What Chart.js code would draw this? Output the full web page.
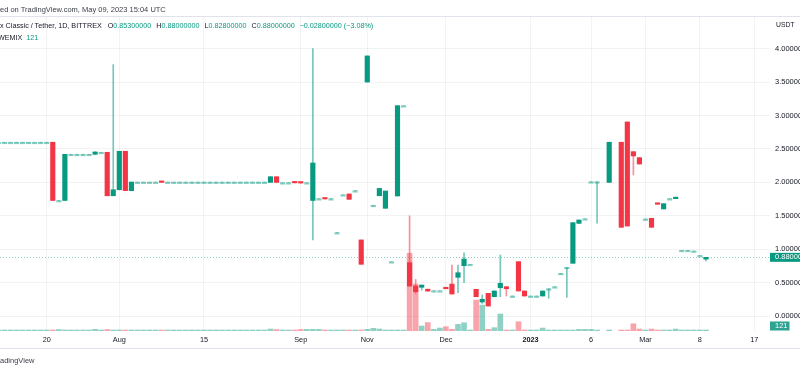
<!DOCTYPE html>
<html>
<head>
<meta charset="utf-8">
<script src="https://cdn.jsdelivr.net/npm/chart.js@4.4.0/dist/chart.umd.min.js"></script>
<style>
  html, body { margin: 0; padding: 0; background: #fff; }
  #wrap { position: relative; width: 800px; height: 371px; overflow: hidden; font-family: 'Liberation Sans', Arial, sans-serif; color: #131722; }
  #grafico { position: absolute; left: 0; top: 0; }
  .txt { position: absolute; white-space: nowrap; font-size: 7.2px; line-height: 10px; }
  .verde { color: #089981; }
  .linha { position: absolute; left: 0; width: 800px; height: 1px; background: #e0e3eb; }
</style>
</head>
<body>
<div id="wrap">
  <canvas id="grafico" width="800" height="371"></canvas>
  <div class="txt" style="left:0;top:4.5px;font-size:7.5px;color:#3b3e48">ed on TradingView.com, May 09, 2023 15:04 UTC</div>
  <div class="linha" style="top:16px"></div>
  <div class="txt" id="legenda1" style="left:0;top:21px"></div>
  <div class="txt" id="legenda2" style="left:-2px;top:32.5px"></div>
  <div class="txt" style="left:776px;top:20px;font-size:6.8px">USDT</div>
  <div class="linha" style="top:348px"></div>
  <div class="txt" style="left:0;top:356px;font-size:7.5px;color:#3b3e48">adingView</div>
</div>
<script>
// time axis labels (bar index -> label)
const tickIndex = [8, 20, 34, 50, 61, 74, 88, 98, 107, 116, 125];
const tickLabels = ['20', 'Aug', '15', 'Sep', 'Nov', 'Dec', '2023', '6', 'Mar', '8', '17'];
const priceTicks = [0, 0.5, 1, 1.5, 2, 2.5, 3, 3.5, 4];

// daily candles, one entry per bar (null = no bar)
const opens = [
    2.60, 2.60, 2.60, 2.60, 2.60, 2.60, 2.60, 2.60, 2.60, 2.60,
    1.73, 1.73, 2.42, 2.42, 2.42, 2.42, 2.42, 2.45, 2.45, 1.80,
    1.89, 2.465, 1.876, 2.005, 2.005, 2.005, 2.005, 2.012, 2.005, 2.005,
    2.005, 2.005, 2.005, 2.005, 2.005, 2.005, 2.005, 2.005, 2.005, 2.005,
    2.005, 2.005, 2.005, 2.005, 2.005, 2.00, 2.085, 1.996, 1.996, 2.00,
    2.00, 1.996, 1.73, 1.757, 1.762, 1.757, 1.25, 1.816, 1.827, 1.876,
    1.14, 3.50, 1.658, 1.80, 1.613, 0.815, 1.797, 3.147, 0.80, 0.451,
    0.432, 0.404, 0.381, 0.381, 0.425, 0.48, 0.581, 0.755, 0.776, 0.402,
    0.212, 0.342, 0.291, 0.426, 0.441, 0.302, 0.815, 0.377, 0.302, 0.302,
    0.302, 0.411, 0.441, 0.641, 0.731, 0.791, 1.388, 1.457, 2.01, 2.01,
    null, 2.00, null, 2.60, 2.903, 2.459, 2.37, 1.453, 1.463, 1.68,
    1.603, 1.757, 1.757, 0.985, 0.985, 0.975, 0.908, 0.853
];
const highs = [
    2.60, 2.60, 2.60, 2.60, 2.60, 2.60, 2.60, 2.60, 2.60, 2.60,
    1.73, 2.42, 2.42, 2.42, 2.42, 2.42, 2.455, 2.45, 2.45, 3.76,
    2.465, 2.465, 2.005, 2.005, 2.005, 2.005, 2.005, 2.012, 2.005, 2.005,
    2.005, 2.005, 2.005, 2.005, 2.005, 2.005, 2.005, 2.005, 2.005, 2.005,
    2.005, 2.005, 2.005, 2.005, 2.005, 2.085, 2.085, 1.996, 1.996, 2.00,
    2.00, 1.996, 4.00, 1.757, 1.762, 1.757, 1.25, 1.816, 1.827, 1.876,
    1.14, 3.89, 1.658, 1.91, 1.871, 0.815, 3.147, 3.147, 1.50, 0.55,
    0.466, 0.404, 0.381, 0.381, 0.425, 0.765, 0.765, 0.949, 0.776, 0.402,
    0.317, 0.342, 0.377, 0.915, 0.441, 0.302, 0.815, 0.377, 0.302, 0.302,
    0.377, 0.411, 0.441, 0.641, 0.731, 1.398, 1.438, 1.457, 2.01, 2.01,
    null, 2.60, null, 2.60, 2.903, 2.459, 2.37, 1.453, 1.463, 1.68,
    1.682, 1.757, 1.765, 0.985, 0.985, 0.975, 0.908, 0.88
];
const lows = [
    2.60, 2.60, 2.60, 2.60, 2.60, 2.60, 2.60, 2.60, 2.60, 1.73,
    1.73, 1.73, 2.42, 2.42, 2.42, 2.42, 2.42, 2.45, 1.80, 1.80,
    1.89, 1.876, 1.876, 2.005, 2.005, 2.005, 2.005, 2.00, 2.005, 2.005,
    2.005, 2.005, 2.005, 2.005, 2.005, 2.005, 2.005, 2.005, 2.005, 2.005,
    2.005, 2.005, 2.005, 2.005, 2.005, 2.00, 2.00, 1.996, 1.996, 1.993,
    1.99, 1.996, 1.14, 1.757, 1.752, 1.757, 1.25, 1.816, 1.747, 1.876,
    0.776, 3.50, 1.658, 1.80, 1.613, 0.815, 1.797, 3.147, 0.45, 0.342,
    0.39, 0.375, 0.381, 0.381, 0.41, 0.332, 0.351, 0.50, 0.776, 0.291,
    0.193, 0.152, 0.291, 0.291, 0.302, 0.302, 0.377, 0.302, 0.302, 0.302,
    0.302, 0.267, 0.441, 0.641, 0.282, 0.791, 1.388, 1.457, 2.01, 1.39,
    null, 2.00, null, 1.329, 1.348, 2.111, 2.275, 1.453, 1.329, 1.673,
    1.603, 1.757, 1.757, 0.985, 0.985, 0.975, 0.908, 0.828
];
const closes = [
    2.60, 2.60, 2.60, 2.60, 2.60, 2.60, 2.60, 2.60, 2.60, 1.73,
    1.73, 2.42, 2.42, 2.42, 2.42, 2.42, 2.455, 2.45, 1.80, 1.89,
    2.465, 1.876, 2.005, 2.005, 2.005, 2.005, 2.005, 2.00, 2.005, 2.005,
    2.005, 2.005, 2.005, 2.005, 2.005, 2.005, 2.005, 2.005, 2.005, 2.005,
    2.005, 2.005, 2.005, 2.005, 2.005, 2.085, 2.00, 1.996, 1.996, 1.993,
    1.99, 1.996, 2.29, 1.757, 1.752, 1.757, 1.25, 1.816, 1.747, 1.876,
    0.776, 3.89, 1.658, 1.91, 1.871, 0.815, 3.147, 3.147, 0.45, 0.366,
    0.466, 0.375, 0.381, 0.381, 0.41, 0.332, 0.65, 0.855, 0.776, 0.291,
    0.253, 0.152, 0.377, 0.492, 0.411, 0.302, 0.377, 0.302, 0.302, 0.302,
    0.377, 0.411, 0.441, 0.641, 0.731, 1.398, 1.438, 1.457, 2.01, 2.01,
    null, 2.60, null, 1.329, 1.348, 2.395, 2.275, 1.453, 1.329, 1.673,
    1.682, 1.757, 1.765, 0.985, 0.985, 0.975, 0.908, 0.88
];
const volumes = [
    60, 60, 60, 60, 60, 60, 60, 60, 60, 120,
    180, 120, 60, 60, 60, 60, 205, 60, 180, 120,
    120, 120, 120, 60, 60, 60, 60, 120, 60, 60,
    60, 60, 60, 60, 60, 60, 60, 60, 60, 60,
    60, 60, 60, 60, 60, 240, 180, 60, 60, 120,
    180, 205, 205, 205, 60, 60, 60, 60, 60, 60,
    120, 205, 330, 240, 120, 60, 60, 60, 9440, 5690,
    605, 1030, 205, 360, 520, 205, 810, 1000, 60, 3750,
    3150, 205, 400, 2060, 120, 60, 1125, 120, 60, 60,
    360, 85, 60, 60, 60, 60, 205, 205, 205, 60,
    null, 60, null, 85, 120, 880, 240, 60, 240, 85,
    120, 120, 240, 60, 60, 60, 85, 121
];

document.addEventListener('DOMContentLoaded', () => {
    const green = '#089981';
    const red = '#f23645';
    const last = closes.length - 1;

    // legend text built from the last bar
    const change = closes[last] - closes[last - 1];
    const pct = change / closes[last - 1] * 100;
    const fmt = v => v.toFixed(8).replace('-', '\u2212');
    document.getElementById('legenda1').innerHTML =
        'x Classic / Tether, 1D, BITTREX' +
        '<span style="margin-left:6px">O</span><span class="verde">' + fmt(opens[last]) + '</span>' +
        '<span style="margin-left:5px">H</span><span class="verde">' + fmt(highs[last]) + '</span>' +
        '<span style="margin-left:5px">L</span><span class="verde">' + fmt(lows[last]) + '</span>' +
        '<span style="margin-left:5px">C</span><span class="verde">' + fmt(closes[last]) + '</span>' +
        '<span class="verde" style="margin-left:5px">' + fmt(change) + ' (' + pct.toFixed(2).replace('-', '\u2212') + '%)</span>';
    document.getElementById('legenda2').innerHTML =
        'WEMIX<span class="verde" style="margin-left:4px">' + volumes[last] + '</span>';

    // split candles into wick / body / volume bars
    const wicks = [], wickColors = [];
    const bodies = [], bodyColors = [];
    const vols = [], volColors = [];
    for (let j = 0; j < opens.length; j++) {
        if (opens[j] === null) continue;
        const up = closes[j] >= opens[j];
        const flat = opens[j] === closes[j];
        wicks.push({ x: j, y: [lows[j], highs[j]] });
        wickColors.push(up ? 'rgba(8,153,129,0.55)' : 'rgba(242,54,69,0.55)');
        bodies.push({ x: j, y: [opens[j], closes[j]] });
        bodyColors.push(flat ? 'rgba(8,153,129,0.5)' : (up ? green : red));
        vols.push({ x: j, y: volumes[j] });
        volColors.push(up ? 'rgba(8,153,129,0.45)' : 'rgba(242,54,69,0.45)');
    }

    // last price line + axis labels
    const priceMarks = {
        id: 'priceMarks',
        beforeDatasetsDraw(chart) {
            const { ctx, chartArea, scales } = chart;
            const y = Math.round(scales.y.getPixelForValue(closes[last])) + 0.5;
            ctx.save();
            ctx.strokeStyle = 'rgba(8,153,129,0.45)';
            ctx.lineWidth = 1;
            ctx.setLineDash([1, 2]);
            ctx.beginPath();
            ctx.moveTo(chartArea.left, y);
            ctx.lineTo(chartArea.right, y);
            ctx.stroke();
            ctx.restore();
        },
        afterDraw(chart) {
            const { ctx, chartArea, scales } = chart;
            ctx.save();
            ctx.font = "7.5px 'Liberation Sans', Arial, sans-serif";
            ctx.textBaseline = 'middle';
            const yp = scales.y.getPixelForValue(closes[last]);
            ctx.fillStyle = green;
            ctx.fillRect(chartArea.right, yp - 4.5, 30, 9);
            ctx.fillStyle = '#fff';
            ctx.fillText(closes[last].toFixed(5), chartArea.right + 5, yp);
            const yv = Math.min(scales.v.getPixelForValue(volumes[last]), chartArea.bottom - 5);
            ctx.fillStyle = '#2fa391';
            ctx.fillRect(chartArea.right, yv - 4.5, 19.5, 9);
            ctx.fillStyle = '#fff';
            ctx.fillText(String(volumes[last]), chartArea.right + 5, yv);
            ctx.restore();
        }
    };

    const gridColor = 'rgba(42,46,57,0.06)';
    Chart.defaults.font.family = "'Liberation Sans', Arial, sans-serif";
    Chart.defaults.color = '#131722';

    new Chart(document.getElementById('grafico'), {
        type: 'bar',
        data: {
            datasets: [
                {
                    data: bodies,
                    backgroundColor: bodyColors,
                    barThickness: 4.5,
                    minBarLength: 1.5,
                    grouped: false,
                    yAxisID: 'y',
                    order: 1
                },
                {
                    data: wicks,
                    backgroundColor: wickColors,
                    barThickness: 1,
                    grouped: false,
                    yAxisID: 'y',
                    order: 2
                },
                {
                    data: vols,
                    backgroundColor: volColors,
                    barThickness: 5,
                    minBarLength: 1,
                    grouped: false,
                    yAxisID: 'v',
                    order: 3
                }
            ]
        },
        options: {
            responsive: false,
            animation: false,
            events: [],
            layout: { padding: { top: 17, bottom: 23, left: 0, right: 0 } },
            plugins: { legend: { display: false }, tooltip: { enabled: false } },
            scales: {
                x: {
                    type: 'linear',
                    min: 0.2745,
                    max: 127.59,
                    offset: false,
                    afterFit: (scale) => { scale.height = 17; },
                    afterBuildTicks: (scale) => { scale.ticks = tickIndex.map(v => ({ value: v })); },
                    ticks: {
                        autoSkip: false,
                        maxRotation: 0,
                        minRotation: 0,
                        padding: 5,
                        color: '#131722',
                        font: (ctx) => ({ size: 7.3, weight: ctx.index === tickLabels.indexOf('2023') ? 'bold' : 'normal' }),
                        callback: (value) => tickLabels[tickIndex.indexOf(value)]
                    },
                    grid: { color: gridColor, drawTicks: false, offset: false },
                    border: { display: false }
                },
                y: {
                    type: 'linear',
                    position: 'right',
                    min: -0.221,
                    max: 4.472,
                    afterFit: (scale) => { scale.width = 30; },
                    afterBuildTicks: (scale) => { scale.ticks = priceTicks.map(v => ({ value: v })); },
                    ticks: {
                        padding: 5,
                        color: '#131722',
                        font: { size: 7.5 },
                        callback: (value) => value.toFixed(5)
                    },
                    grid: { color: gridColor, drawTicks: false },
                    border: { display: false }
                },
                v: {
                    type: 'linear',
                    display: false,
                    min: 0,
                    max: 38100
                }
            }
        },
        plugins: [priceMarks]
    });
});
</script>
</body>
</html>
